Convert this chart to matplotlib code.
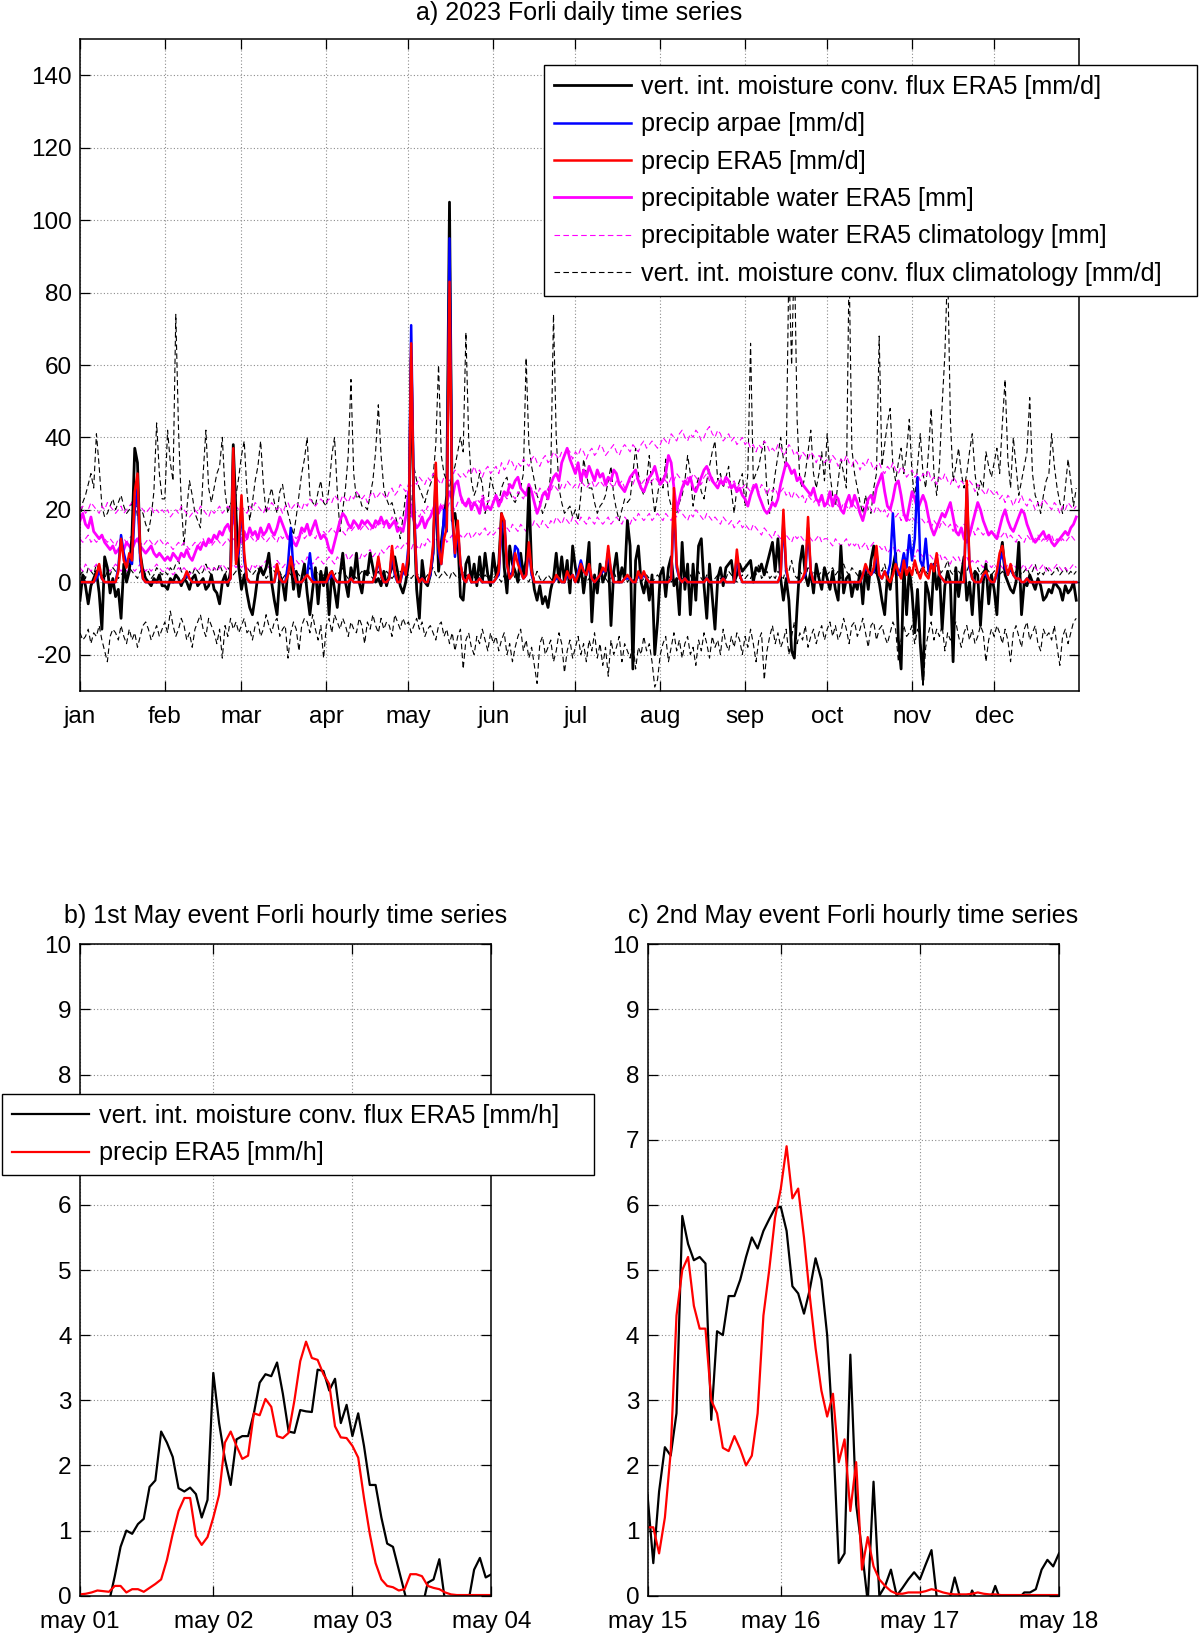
import numpy as np
import matplotlib.pyplot as plt

plt.rcParams['font.family'] = ['Liberation Sans', 'DejaVu Sans']
plt.rcParams['font.size'] = 17.5
plt.rcParams['axes.unicode_minus'] = False

months = ['jan', 'feb', 'mar', 'apr', 'may', 'jun', 'jul', 'aug', 'sep', 'oct', 'nov', 'dec']
month_start = [1, 32, 60, 91, 121, 152, 182, 213, 244, 274, 305, 335]

# -------------------------
# daily series 2023 (one row per month)
# -------------------------
flux_era5 = [
    -5, 2, -1, -6, -1, 1, 3, -3, -13, 7, 4, -3, 1, -4, -2, -10, 5, 0, 3, 13, 37, 33, 8, 3, 1, 0, -1, 1, 0, 2, -1,
    -1, -2, 1, 0, 2, 1, -1, 1, 0, -2, 1, 2, -1, 0, 1, -2, -1, 2, -2, -3, -6, 0, 2, -1, 3, 38, 19, 4,
    -2, 2, -3, -7, -9, -4, 2, 4, 2, 4, 8, 0, -5, -9, 2, 0, -5, 4, 6, -2, 3, -4, 1, 5, -3, -9, -2, 4, -6, 3, -1,
    4, -9, 3, -2, -7, 2, 8, 0, -4, 4, 1, 8, 0, -3, 3, 2, 8, 4, 0, 1, -1, 3, -1, 2, 4, 7, 3, -1, -3, 0,
    5, 62, 19, -2, -10, 6, 0, -1, 2, 8, 29, 3, 11, 17, 24, 105, 17, 19, 13, -4, -5, 5, 7, 0, 5, -1, 7, 0, 8, 2, -1,
    8, 2, 5, 19, 4, -3, 10, 5, 3, 0, 8, 2, 6, 26, 4, -2, -5, -1, -6, -4, -7, -2, 1, 8, 0, 7, 0, 6, -3, 10,
    4, 0, 5, -3, 3, 11, -11, 2, -3, 5, 0, 2, 8, -12, 3, 8, 0, 4, 1, 17, 10, -24, 6, 10, 0, -3, 1, -5, 2, -20, -11,
    2, 4, -4, 4, 7, -1, 1, -9, 11, -2, 5, -9, 5, -5, 10, 12, -1, -10, 5, -4, -13, 1, 4, -1, 4, 5, 6, 0, 2, 5, 3,
    4, 5, 6, 0, 4, 3, 5, 2, 5, 8, 11, 3, 12, 1, -5, 1, -5, -19, -21, -7, 5, 10, 2, -1, 3, -3, 5, 1, -2, 4,
    1, -2, 3, -2, -5, 10, -3, 1, 2, -4, 0, -2, 3, -6, 4, -2, 6, 10, 3, 0, -5, -9, 2, -2, 4, 8, -16, -24, 5, -9, 4,
    -3, -14, -2, -17, -27, 0, -3, -9, 5, -2, 3, -13, -1, 3, 0, -22, 4, -4, 2, 7, -5, 0, -9, 3, 2, -12, 0, 5, -6, 2,
    -2, -9, 6, 11, 2, 0, -2, -3, 0, 11, -9, 0, -1, 2, 0, -2, 1, -1, -5, -4, -2, -3, 0, -1, -2, -5, -1, -3, -2, 0, -5,
]

precip_arpae = [
    0, 0, 0, 0, 0, 0, 1, 3, 1, 0, 0, 0, 0, 0, 4, 13, 8, 5, 6, 5, 20, 26, 6, 1, 0, 0, 0, 0, 0, 0, 0,
    0, 0, 0, 0, 0, 0, 0, 1, 2, 1, 0, 0, 0, 0, 0, 0, 0, 0, 0, 0, 0, 0, 0, 0, 1, 33, 6, 8,
    22, 6, 1, 0, 0, 0, 0, 0, 0, 0, 0, 0, 0, 4, 1, 0, 0, 5, 15, 3, 0, 0, 0, 1, 2, 8, 1, 0, 0, 0, 0,
    0, 1, 2, 1, 0, 0, 0, 0, 0, 1, 0, 0, 0, 0, 0, 0, 0, 0, 2, 6, 2, 0, 0, 1, 8, 2, 0, 0, 3, 2,
    10, 71, 22, 2, 0, 1, 0, 0, 2, 8, 28, 8, 5, 20, 14, 95, 18, 7, 15, 5, 1, 0, 2, 0, 0, 0, 1, 0, 0, 0, 0,
    0, 1, 2, 15, 17, 5, 1, 3, 10, 9, 3, 1, 2, 9, 2, 0, 0, 0, 0, 0, 0, 0, 0, 1, 1, 0, 0, 2, 1, 2,
    0, 3, 6, 3, 2, 4, 1, 0, 1, 2, 3, 3, 8, 3, 0, 0, 0, 0, 1, 1, 1, 0, 0, 2, 1, 2, 1, 0, 0, 0, 0,
    0, 0, 0, 0, 1, 22, 4, 1, 0, 1, 0, 0, 0, 0, 0, 0, 0, 1, 0, 0, 0, 0, 0, 1, 0, 0, 0, 0, 7, 2, 0,
    0, 0, 0, 0, 0, 0, 0, 0, 0, 0, 0, 0, 0, 2, 17, 3, 0, 0, 0, 0, 0, 1, 2, 15, 3, 0, 0, 0, 0, 0,
    0, 0, 0, 0, 0, 0, 0, 0, 0, 0, 0, 0, 0, 2, 4, 3, 2, 3, 8, 2, 1, 3, 2, 5, 19, 6, 2, 4, 8, 4, 13,
    6, 12, 29, 6, 4, 12, 3, 5, 4, 7, 2, 1, 0, 0, 0, 0, 0, 0, 0, 0, 26, 4, 1, 0, 0, 0, 2, 2, 1, 0,
    0, 2, 6, 8, 4, 2, 4, 2, 1, 1, 0, 0, 1, 0, 0, 0, 0, 0, 0, 0, 0, 0, 0, 0, 0, 0, 0, 0, 0, 0, 0,
]

precip_era5 = [
    0, 0, 0, 0, 0, 0, 2, 5, 1, 0, 0, 0, 0, 0, 3, 12, 6, 4, 8, 6, 25, 30, 8, 1, 0, 0, 0, 0, 0, 0, 0,
    0, 0, 0, 0, 0, 0, 0, 1, 3, 1, 0, 0, 0, 0, 0, 0, 0, 0, 0, 0, 0, 0, 0, 0, 1, 37, 5, 10,
    24, 8, 1, 0, 0, 0, 0, 0, 0, 0, 0, 0, 0, 5, 1, 0, 0, 2, 7, 3, 0, 0, 0, 1, 2, 1, 0, 0, 0, 0, 0,
    0, 2, 3, 1, 0, 0, 0, 0, 0, 1, 0, 0, 0, 0, 0, 0, 0, 0, 2, 7, 2, 0, 0, 1, 10, 3, 0, 0, 5, 2,
    8, 66, 20, 2, 0, 1, 0, 0, 3, 10, 33, 10, 5, 12, 15, 83, 20, 8, 17, 5, 1, 0, 2, 0, 0, 0, 1, 0, 0, 0, 0,
    0, 1, 3, 19, 17, 5, 1, 2, 8, 5, 3, 1, 2, 11, 3, 0, 0, 0, 0, 0, 0, 0, 0, 2, 1, 0, 0, 3, 1, 2,
    0, 2, 5, 3, 2, 5, 1, 0, 1, 2, 4, 3, 10, 3, 0, 0, 0, 0, 1, 2, 1, 0, 0, 3, 1, 3, 1, 0, 0, 0, 0,
    0, 0, 0, 0, 1, 26, 5, 1, 0, 1, 0, 0, 0, 0, 0, 0, 0, 1, 0, 0, 0, 0, 0, 1, 0, 0, 0, 0, 9, 2, 0,
    0, 0, 0, 0, 0, 0, 0, 0, 0, 0, 0, 0, 0, 2, 20, 4, 0, 0, 0, 0, 0, 1, 3, 18, 3, 0, 0, 0, 0, 0,
    0, 0, 0, 0, 0, 0, 0, 0, 0, 0, 0, 0, 0, 2, 5, 3, 2, 4, 10, 2, 1, 3, 1, 0, 2, 5, 3, 1, 6, 2, 4,
    2, 6, 3, 1, 4, 2, 1, 5, 3, 8, 2, 1, 0, 0, 0, 0, 0, 0, 0, 0, 28, 5, 1, 0, 0, 0, 2, 3, 1, 0,
    0, 3, 8, 10, 5, 2, 5, 2, 1, 1, 0, 0, 1, 0, 0, 0, 0, 0, 0, 0, 0, 0, 0, 0, 0, 0, 0, 0, 0, 0, 0,
]

pw_era5 = [
    17, 19, 16, 15, 18, 14, 13, 12, 13, 11, 10, 9, 10, 8, 9, 10, 9, 11, 10, 9, 11, 12, 10, 9, 8, 9, 10, 8, 7, 8, 7,
    6, 7, 6, 8, 7, 6, 8, 7, 9, 7, 6, 8, 10, 9, 11, 10, 12, 11, 13, 12, 14, 13, 15, 16, 14, 18, 15, 12,
    11, 14, 12, 15, 13, 14, 12, 15, 13, 14, 16, 14, 13, 15, 18, 16, 14, 12, 13, 11, 10, 12, 15, 14, 16, 13, 15, 17, 14, 12, 13,
    12, 9, 8, 11, 14, 17, 19, 18, 16, 15, 17, 16, 15, 17, 16, 17, 16, 15, 17, 16, 18, 16, 17, 15, 16, 17, 14, 15, 14, 18,
    25, 20, 17, 15, 16, 18, 15, 17, 18, 20, 22, 19, 21, 20, 22, 25, 23, 27, 28, 24, 22, 21, 23, 20, 22, 21, 19, 23, 20, 21, 20,
    22, 24, 21, 23, 25, 24, 27, 26, 28, 29, 26, 25, 24, 27, 25, 22, 19, 21, 24, 25, 23, 27, 29, 30, 28, 33, 35, 37, 34, 32,
    30, 33, 28, 31, 29, 32, 30, 28, 31, 29, 30, 27, 29, 28, 31, 30, 27, 26, 25, 27, 29, 30, 31, 28, 26, 25, 27, 29, 30, 32, 29,
    27, 28, 30, 35, 33, 26, 20, 23, 26, 28, 27, 29, 26, 25, 27, 29, 31, 32, 30, 28, 27, 26, 28, 27, 29, 28, 26, 27, 25, 26, 24,
    23, 21, 24, 26, 27, 24, 22, 20, 19, 20, 22, 21, 23, 27, 30, 33, 32, 30, 31, 28, 29, 27, 26, 25, 24, 26, 23, 22, 24, 21,
    22, 25, 21, 24, 23, 20, 19, 22, 24, 21, 24, 22, 19, 17, 20, 23, 24, 22, 26, 28, 30, 25, 21, 20, 23, 27, 28, 24, 19, 17, 21,
    25, 23, 20, 22, 24, 22, 18, 15, 13, 15, 17, 19, 18, 20, 22, 18, 14, 13, 15, 12, 11, 13, 16, 19, 22, 20, 17, 15, 13, 14,
    13, 12, 15, 18, 20, 17, 15, 14, 16, 18, 20, 19, 16, 14, 12, 11, 12, 13, 14, 12, 13, 11, 10, 11, 12, 13, 14, 13, 15, 16, 18,
]

# precipitable water climatology: upper, mean, lower
pw_clim_up = [
    20, 21, 19, 20, 22, 21, 20, 19, 21, 20, 22, 21, 20, 19, 20, 21, 19, 20, 21, 22, 20, 19, 21, 20, 19, 20, 21, 19, 20, 19, 20,
    19, 20, 18, 19, 20, 19, 21, 20, 19, 18, 19, 20, 19, 21, 20, 19, 18, 20, 19, 20, 21, 19, 20, 21, 20, 19, 21, 20,
    21, 20, 19, 21, 20, 22, 21, 20, 19, 21, 20, 22, 21, 20, 21, 19, 21, 22, 20, 21, 22, 21, 20, 22, 21, 23, 22, 21, 22, 23, 22,
    22, 23, 22, 24, 23, 22, 24, 23, 22, 24, 23, 25, 24, 23, 24, 22, 24, 25, 23, 24, 25, 24, 23, 25, 26, 24, 25, 27, 26, 25,
    27, 26, 28, 27, 29, 28, 27, 29, 28, 30, 29, 28, 27, 29, 30, 28, 29, 31, 30, 29, 30, 29, 31, 30, 32, 30, 31, 29, 31, 32, 30,
    31, 32, 30, 33, 31, 32, 34, 33, 31, 33, 32, 34, 33, 32, 34, 35, 33, 32, 34, 35, 33, 34, 36, 35, 34, 36, 35, 37, 36, 34,
    36, 35, 37, 36, 34, 36, 37, 35, 36, 38, 37, 35, 36, 37, 38, 36, 35, 37, 38, 37, 36, 38, 37, 36, 38, 39, 37, 38, 39, 38, 37,
    38, 40, 39, 38, 41, 40, 39, 41, 42, 40, 39, 41, 40, 42, 41, 39, 40, 42, 43, 41, 40, 42, 41, 39, 40, 41, 39, 40, 38, 39, 40,
    38, 39, 37, 38, 36, 38, 37, 39, 38, 36, 37, 36, 38, 37, 35, 36, 38, 37, 35, 36, 34, 36, 35, 34, 36, 35, 33, 35, 34, 33,
    34, 33, 35, 34, 32, 34, 33, 35, 33, 32, 34, 33, 31, 33, 32, 34, 33, 31, 32, 33, 31, 30, 32, 31, 33, 31, 30, 32, 31, 29, 30,
    31, 29, 30, 28, 30, 29, 31, 28, 29, 27, 29, 28, 30, 28, 27, 29, 28, 26, 28, 27, 26, 28, 27, 25, 27, 26, 25, 24, 26, 25,
    24, 25, 23, 24, 22, 24, 23, 21, 23, 22, 24, 22, 21, 23, 22, 20, 22, 21, 23, 22, 21, 20, 22, 21, 19, 21, 20, 22, 21, 20, 21,
]

pw_clim_mid = [
    12, 11, 12, 13, 11, 12, 11, 12, 13, 12, 11, 12, 11, 10, 12, 11, 12, 11, 12, 13, 11, 12, 11, 10, 11, 12, 11, 10, 11, 12, 11,
    10, 11, 10, 9, 10, 11, 10, 11, 10, 9, 10, 11, 10, 11, 12, 10, 11, 10, 11, 12, 11, 10, 11, 12, 11, 12, 11, 12,
    12, 11, 12, 13, 12, 11, 12, 13, 12, 11, 12, 13, 12, 11, 13, 12, 13, 12, 11, 13, 12, 13, 14, 12, 13, 14, 13, 12, 14, 13, 14,
    13, 14, 15, 14, 13, 15, 14, 13, 15, 14, 15, 16, 14, 15, 16, 15, 14, 16, 15, 17, 16, 15, 17, 16, 18, 17, 16, 18, 17, 18,
    19, 18, 20, 19, 18, 20, 19, 21, 20, 19, 21, 20, 22, 21, 20, 22, 21, 20, 22, 23, 21, 22, 23, 22, 21, 23, 22, 24, 23, 22, 23,
    22, 24, 23, 22, 24, 23, 25, 24, 23, 25, 24, 23, 25, 24, 26, 25, 24, 26, 25, 24, 26, 25, 27, 26, 25, 27, 26, 28, 27, 26,
    27, 26, 28, 27, 26, 27, 28, 26, 27, 28, 27, 26, 28, 27, 26, 28, 27, 28, 26, 27, 28, 27, 29, 28, 27, 28, 29, 27, 28, 29, 28,
    27, 29, 28, 27, 29, 28, 30, 29, 28, 27, 29, 28, 30, 29, 28, 27, 29, 30, 28, 29, 27, 28, 29, 27, 28, 26, 27, 28, 26, 27, 26,
    27, 26, 25, 27, 26, 25, 27, 26, 24, 26, 25, 26, 24, 25, 26, 24, 25, 23, 25, 24, 23, 24, 22, 24, 23, 22, 23, 21, 23, 22,
    22, 21, 23, 22, 21, 20, 22, 21, 20, 22, 21, 20, 19, 21, 20, 22, 20, 19, 21, 20, 19, 20, 18, 20, 19, 18, 19, 17, 19, 18, 17,
    18, 17, 16, 18, 17, 16, 17, 15, 17, 16, 15, 17, 16, 15, 16, 14, 16, 15, 14, 16, 15, 14, 15, 13, 15, 14, 13, 14, 13, 14,
    13, 14, 12, 13, 14, 12, 13, 12, 11, 13, 12, 11, 13, 12, 11, 12, 13, 11, 12, 11, 12, 13, 11, 12, 11, 12, 11, 12, 13, 12, 11,
]

pw_clim_low = [
    4, 3, 5, 4, 3, 4, 5, 3, 4, 5, 4, 3, 4, 5, 4, 3, 4, 3, 5, 4, 3, 4, 5, 4, 3, 4, 3, 4, 5, 4, 3,
    3, 4, 3, 2, 3, 4, 3, 4, 3, 2, 3, 4, 3, 4, 5, 3, 4, 3, 4, 3, 4, 5, 4, 3, 4, 5, 4, 5,
    4, 5, 4, 3, 5, 4, 5, 4, 5, 6, 4, 5, 4, 6, 5, 4, 5, 6, 5, 4, 6, 5, 6, 5, 7, 6, 5, 6, 7, 6, 5,
    6, 7, 6, 5, 7, 6, 7, 8, 6, 7, 8, 7, 6, 8, 7, 8, 9, 7, 8, 7, 9, 8, 9, 10, 8, 9, 10, 9, 10, 11,
    10, 9, 11, 10, 9, 11, 10, 12, 11, 10, 12, 11, 12, 13, 11, 12, 13, 12, 11, 13, 12, 13, 14, 12, 13, 14, 13, 14, 15, 13, 14,
    13, 14, 15, 14, 13, 15, 14, 16, 15, 14, 16, 15, 14, 16, 15, 17, 16, 15, 17, 16, 15, 17, 16, 18, 17, 16, 18, 17, 16, 18,
    17, 16, 18, 17, 16, 18, 17, 16, 18, 17, 16, 17, 18, 16, 17, 18, 17, 16, 18, 17, 16, 18, 17, 19, 18, 17, 18, 19, 17, 18, 19,
    18, 17, 19, 18, 17, 19, 18, 20, 19, 18, 17, 19, 18, 20, 19, 18, 17, 19, 18, 17, 18, 17, 16, 18, 17, 16, 17, 15, 16, 17, 15,
    16, 15, 14, 16, 15, 14, 13, 15, 14, 13, 12, 14, 13, 12, 14, 13, 12, 11, 13, 12, 13, 12, 11, 13, 12, 11, 12, 13, 11, 12,
    12, 11, 10, 12, 11, 10, 11, 12, 10, 11, 10, 11, 9, 10, 11, 9, 10, 11, 9, 10, 9, 10, 8, 9, 10, 8, 9, 8, 7, 9, 8,
    8, 7, 9, 8, 7, 6, 8, 7, 6, 7, 8, 6, 7, 6, 5, 7, 6, 7, 5, 6, 7, 5, 6, 5, 6, 5, 4, 6, 5, 4,
    5, 4, 5, 4, 3, 5, 4, 5, 4, 3, 4, 5, 3, 4, 5, 4, 3, 4, 5, 3, 4, 3, 4, 5, 4, 3, 4, 3, 4, 5, 4,
]

# moisture convergence climatology: upper, mean, lower
flux_clim_up = [
    17, 22, 24, 27, 30, 26, 41, 32, 21, 18, 19, 21, 23, 20, 22, 24, 21, 19, 20, 22, 24, 18, 20, 19, 16, 14, 18, 25, 44, 30, 23,
    23, 42, 33, 28, 74, 42, 22, 10, 20, 28, 24, 19, 17, 15, 30, 42, 26, 22, 26, 30, 32, 40, 25, 19, 22, 20, 24, 29,
    35, 39, 25, 17, 22, 28, 32, 39, 27, 19, 23, 26, 22, 19, 25, 27, 22, 19, 16, 13, 18, 24, 30, 34, 40, 24, 22, 21, 25, 28, 22,
    21, 26, 35, 40, 25, 14, 20, 26, 35, 56, 30, 23, 24, 21, 21, 20, 24, 28, 36, 49, 35, 26, 23, 21, 22, 19, 16, 12, 18, 24,
    23, 19, 32, 28, 26, 24, 22, 25, 27, 29, 38, 60, 35, 30, 28, 26, 30, 32, 36, 40, 36, 69, 40, 28, 24, 26, 30, 27, 19, 22, 29,
    26, 24, 22, 26, 28, 29, 25, 23, 22, 24, 26, 30, 62, 38, 32, 28, 24, 22, 19, 21, 24, 30, 74, 40, 26, 22, 19, 20, 21, 18,
    20, 17, 24, 34, 30, 26, 26, 22, 19, 21, 22, 24, 28, 32, 24, 20, 17, 20, 23, 22, 23, 30, 37, 30, 26, 24, 28, 35, 26, 19, 24,
    29, 26, 34, 24, 21, 19, 19, 22, 24, 28, 35, 30, 21, 26, 29, 25, 23, 28, 32, 36, 39, 28, 30, 26, 29, 32, 25, 19, 26, 28, 30,
    21, 30, 66, 28, 30, 32, 36, 39, 25, 19, 24, 30, 35, 40, 34, 32, 88, 60, 92, 45, 28, 26, 30, 36, 42, 30, 26, 30, 36, 28,
    41, 30, 24, 21, 28, 34, 30, 26, 88, 37, 30, 26, 22, 19, 24, 20, 19, 26, 30, 68, 32, 38, 44, 48, 32, 28, 33, 37, 30, 36, 45,
    30, 23, 32, 41, 30, 26, 36, 48, 30, 24, 32, 49, 63, 88, 45, 28, 32, 37, 30, 26, 30, 36, 41, 30, 24, 28, 26, 36, 32, 29,
    33, 37, 30, 44, 56, 34, 26, 40, 32, 24, 28, 32, 36, 51, 30, 24, 22, 19, 24, 28, 30, 41, 32, 26, 22, 19, 26, 34, 28, 21, 26,
]

flux_clim_mid = [
    2, 3, 1, 4, 3, 2, 5, 3, 2, 1, 3, 2, 4, 3, 1, 2, 3, 2, 4, 3, 2, 1, 3, 4, 2, 3, 1, 2, 4, 3, 2,
    3, 2, 4, 3, 5, 6, 3, 2, 1, 3, 2, 4, 3, 2, 3, 5, 3, 2, 4, 3, 5, 3, 2, 4, 3, 2, 3, 4,
    3, 2, 4, 3, 2, 3, 4, 2, 3, 1, 2, 4, 3, 2, 3, 1, 2, 3, 2, 4, 3, 2, 1, 3, 2, 4, 3, 2, 3, 1, 2,
    2, 3, 1, 2, 3, 2, 4, 2, 1, 3, 2, 1, 2, 3, 2, 4, 2, 1, 2, 3, 1, 2, 3, 2, 1, 2, 1, 3, 2, 1,
    2, 1, 2, 3, 1, 2, 1, 2, 3, 4, 2, 1, 2, 3, 2, 1, 3, 2, 1, 2, 3, 2, 1, 2, 1, 3, 2, 1, 2, 1, 2,
    1, 2, 1, 0, 2, 1, 2, 3, 1, 0, 1, 2, 1, 0, 2, 1, 3, 1, 0, 1, 2, 1, 0, 1, 2, 0, 1, 2, 1, 0,
    1, 0, 2, 1, 0, 1, 2, 0, 1, 0, 2, 1, 0, 1, 3, 1, 0, 1, 2, 0, 1, 0, 2, 1, 0, 1, 2, 1, 0, 1, 2,
    1, 0, 1, 2, 0, 1, 0, 2, 1, 0, 1, 2, 0, 1, 3, 1, 0, 2, 1, 0, 1, 2, 1, 0, 1, 3, 2, 1, 0, 1, 2,
    1, 2, 1, 3, 2, 5, 1, 2, 3, 1, 2, 1, 3, 2, 1, 4, 3, 6, 2, 1, 3, 2, 1, 4, 2, 3, 1, 2, 3, 4,
    2, 3, 4, 2, 3, 1, 5, 3, 2, 4, 3, 2, 1, 3, 4, 2, 5, 3, 2, 4, 3, 5, 2, 3, 4, 2, 3, 1, 4, 3, 2,
    3, 4, 2, 3, 5, 3, 2, 4, 3, 5, 2, 3, 4, 6, 3, 2, 4, 3, 2, 4, 3, 5, 2, 3, 4, 2, 3, 4, 3, 2,
    3, 4, 2, 3, 2, 4, 3, 2, 3, 4, 2, 3, 4, 2, 3, 5, 2, 3, 2, 4, 3, 2, 3, 4, 2, 3, 4, 2, 3, 2, 3,
]

flux_clim_low = [
    -14, -16, -15, -13, -17, -14, -15, -12, -16, -19, -22, -15, -13, -14, -16, -12, -15, -17, -13, -16, -14, -18, -15, -12, -11, -13, -16, -14, -12, -15, -13,
    -11, -14, -8, -12, -15, -13, -10, -12, -16, -14, -18, -13, -11, -9, -13, -15, -10, -12, -14, -17, -13, -21, -12, -15, -10, -13, -11, -14,
    -12, -10, -14, -13, -16, -12, -11, -15, -13, -9, -12, -14, -11, -10, -15, -13, -12, -21, -14, -11, -13, -19, -12, -10, -11, -14, -9, -13, -16, -12, -21,
    -12, -10, -14, -9, -11, -13, -10, -12, -15, -11, -13, -14, -10, -12, -17, -11, -13, -9, -12, -14, -10, -13, -11, -12, -15, -9, -11, -13, -10, -12,
    -11, -14, -12, -10, -13, -11, -15, -13, -12, -14, -16, -12, -11, -15, -13, -17, -14, -19, -15, -13, -24, -16, -14, -18, -20, -15, -17, -13, -16, -19, -14,
    -17, -15, -19, -16, -14, -20, -17, -22, -18, -15, -13, -19, -16, -21, -18, -23, -28, -17, -15, -20, -18, -16, -22, -19, -14, -17, -25, -19, -16, -21,
    -18, -15, -20, -17, -22, -16, -19, -14, -21, -17, -23, -18, -26, -16, -20, -18, -15, -22, -17, -19, -21, -16, -24, -18, -20, -15, -19, -17, -22, -29, -27,
    -20, -17, -15, -22, -18, -14, -19, -16, -21, -17, -15, -20, -18, -23, -16, -19, -14, -17, -21, -15, -18, -16, -20, -13, -17, -19, -15, -18, -14, -16, -20,
    -15, -18, -13, -17, -22, -16, -14, -27, -19, -15, -12, -17, -14, -18, -16, -13, -20, -15, -11, -17, -14, -16, -12, -18, -15, -13, -17, -14, -12, -16,
    -13, -11, -15, -12, -16, -14, -10, -13, -17, -12, -11, -15, -13, -10, -14, -18, -12, -11, -16, -13, -12, -15, -17, -14, -11, -13, -22, -16, -12, -15, -14,
    -12, -17, -13, -15, -29, -18, -14, -11, -16, -13, -15, -12, -19, -14, -16, -13, -11, -15, -18, -14, -12, -16, -13, -17, -15, -12, -14, -22, -16, -13,
    -15, -12, -14, -17, -13, -16, -22, -14, -12, -15, -18, -13, -11, -16, -14, -12, -17, -19, -13, -15, -14, -16, -12, -18, -23, -15, -13, -17, -14, -11, -10,
]

# -------------------------
# hourly series, hours 1..72 after the event start
# -------------------------
flux_may1 = [
    -0.5, -0.6, -0.4, -0.5, -0.3, -0.1, 0.3, 0.75, 1.0, 0.95,
    1.1, 1.18, 1.67, 1.77, 2.52, 2.35, 2.13, 1.65, 1.6, 1.66,
    1.56, 1.2, 1.47, 3.42, 2.65, 2.1, 1.7, 2.4, 2.45, 2.45,
    2.8, 3.27, 3.4, 3.37, 3.58, 3.1, 2.52, 2.5, 2.85, 2.83,
    2.82, 3.47, 3.45, 3.15, 3.33, 2.65, 2.93, 2.45, 2.8, 2.3,
    1.7, 1.7, 1.2, 0.8, 0.75, 0.4, 0.05, -0.3, -0.4, -0.2,
    0.2, 0.25, 0.56, -0.1, -0.4, -0.5, -0.3, -0.1, 0.4, 0.58,
    0.28, 0.33,
]
precip_may1 = [
    0.02, 0.03, 0.05, 0.08, 0.07, 0.06, 0.15, 0.15, 0.05, 0.1,
    0.1, 0.06, 0.12, 0.18, 0.25, 0.55, 0.95, 1.3, 1.5, 1.5,
    0.92, 0.78, 0.9, 1.2, 1.55, 2.35, 2.52, 2.3, 2.1, 2.15,
    2.8, 2.77, 3.02, 2.9, 2.45, 2.42, 2.5, 3.0, 3.6, 3.9,
    3.65, 3.62, 3.4, 3.25, 2.6, 2.43, 2.42, 2.3, 2.12, 1.5,
    0.95, 0.5, 0.25, 0.15, 0.13, 0.08, 0.1, 0.33, 0.33, 0.3,
    0.15, 0.12, 0.1, 0.05, 0.02, 0.01, 0.01, 0.01, 0.01, 0.01,
    0.01, 0.01,
]
flux_may15 = [
    1.55, 0.5, 1.6, 2.28, 2.15, 2.8, 5.83, 5.4, 5.15, 5.2,
    5.1, 2.7, 4.06, 4.0, 4.6, 4.6, 4.85, 5.2, 5.5, 5.33,
    5.6, 5.78, 5.95, 5.97, 5.6, 4.75, 4.64, 4.33, 4.7, 5.18,
    4.85, 4.0, 2.5, 0.5, 0.65, 3.7, 1.4, 0.7, -0.1, 1.75,
    0.0, 0.15, 0.4, 0.0, 0.12, 0.25, 0.36, 0.25, 0.48, 0.7,
    -0.1, -0.2, -0.1, 0.28, -0.05, -0.2, 0.08, -0.1, -0.2, -0.1,
    0.15, -0.1, -0.2, -0.1, -0.05, 0.05, 0.05, 0.1, 0.4, 0.55,
    0.45, 0.65,
]
precip_may15 = [
    1.05, 1.05, 0.65, 1.2, 2.2, 4.3, 5.0, 5.2, 4.45, 4.1,
    4.1, 3.0, 2.8, 2.27, 2.22, 2.45, 2.25, 2.0, 2.15, 2.8,
    4.3, 5.0, 5.8, 6.25, 6.9, 6.1, 6.25, 5.5, 4.6, 3.8,
    3.15, 2.75, 3.1, 2.05, 2.4, 1.3, 2.05, 0.4, 0.9, 0.45,
    0.25, 0.15, 0.07, 0.03, 0.03, 0.05, 0.05, 0.05, 0.07, 0.1,
    0.08, 0.05, 0.03, 0.02, 0.02, 0.02, 0.03, 0.05, 0.03, 0.02,
    0.02, 0.01, 0.01, 0.01, 0.01, 0.01, 0.01, 0.01, 0.01, 0.01,
    0.01, 0.01,
]
may1_labels = ['may 01', 'may 02', 'may 03', 'may 04']
may15_labels = ['may 15', 'may 16', 'may 17', 'may 18']

FS = 17.5
LFS = 18.1
W, H = 1200, 1635


def style_axes(ax):
    ax.tick_params(direction='in', top=True, right=True, length=7, width=0.9,
                   labelsize=FS)
    ax.tick_params(axis='x', pad=11)
    ax.tick_params(axis='y', pad=6)
    ax.grid(True, linestyle=(0, (1, 2)), color='0.55', linewidth=0.8)
    ax.set_axisbelow(True)
    for s in ax.spines.values():
        s.set_linewidth(1.1)


leg_style = dict(loc='upper left', mode='expand', borderaxespad=0,
                 fancybox=False, edgecolor='k', framealpha=1, fontsize=LFS,
                 handlelength=3.07, handletextpad=0.4, labelspacing=0.53,
                 borderpad=0.40)

fig = plt.figure(figsize=(W / 100, H / 100), dpi=100)

# -------------------------
# a) daily series
# -------------------------
ax = fig.add_axes([80 / W, 1 - 690.7 / H, 999 / W, 651.4 / H])
x = np.arange(1, len(flux_era5) + 1)
dash = (5, 3)

for s in [flux_clim_up, flux_clim_mid, flux_clim_low]:
    l_fclim, = ax.plot(np.arange(1, len(s) + 1), s, color='k', lw=0.8, dashes=dash)
for s in [pw_clim_up, pw_clim_mid, pw_clim_low]:
    l_pclim, = ax.plot(np.arange(1, len(s) + 1), s, color='magenta', lw=0.8, dashes=dash)
l_pw, = ax.plot(np.arange(1, len(pw_era5) + 1), pw_era5, color='magenta', lw=2)
l_flux, = ax.plot(x, flux_era5, color='k', lw=2)
l_arpae, = ax.plot(np.arange(1, len(precip_arpae) + 1), precip_arpae, color='blue', lw=1.8)
l_prec, = ax.plot(np.arange(1, len(precip_era5) + 1), precip_era5, color='red', lw=1.8)

ax.set_xlim(1, 366)
ax.set_ylim(-30, 150)
ax.set_yticks(np.arange(-20, 141, 20))
ax.set_xticks(month_start)
ax.set_xticklabels(months)
style_axes(ax)
ax.set_title('a) 2023 Forli daily time series', fontsize=18, pad=14)

leg = ax.legend([l_flux, l_arpae, l_prec, l_pw, l_pclim, l_fclim],
                ['vert. int. moisture conv. flux ERA5 [mm/d]',
                 'precip arpae [mm/d]',
                 'precip ERA5 [mm/d]',
                 'precipitable water ERA5 [mm]',
                 'precipitable water ERA5 climatology [mm]',
                 'vert. int. moisture conv. flux climatology [mm/d]'],
                bbox_to_anchor=(544 / W, 1 - 294 / H, 653 / W, 229 / H),
                bbox_transform=fig.transFigure, **leg_style)
leg.get_frame().set_linewidth(1.0)

# -------------------------
# b) and c) hourly series
# -------------------------
panels = [
    (80, flux_may1, precip_may1, may1_labels, 'b) 1st May event Forli hourly time series'),
    (647.5, flux_may15, precip_may15, may15_labels, 'c) 2nd May event Forli hourly time series'),
]
for left, flux, prec, labels, title in panels:
    axh = fig.add_axes([left / W, 1 - 1595.7 / H, 411.5 / W, 651.4 / H])
    hx = np.arange(1, len(flux) + 1) / 24
    l_hf, = axh.plot(hx, flux, color='k', lw=1.6)
    l_hp, = axh.plot(np.arange(1, len(prec) + 1) / 24, prec, color='red', lw=1.6)
    axh.set_xlim(1 / 24, 3)
    axh.set_ylim(0, 10)
    axh.set_yticks(np.arange(0, 11, 1))
    axh.set_xticks([1 / 24, 1, 2, 3])
    axh.set_xticklabels(labels)
    style_axes(axh)
    axh.set_title(title, fontsize=18, pad=15)
    if left < 100:
        legb = axh.legend([l_hf, l_hp],
                          ['vert. int. moisture conv. flux ERA5 [mm/h]',
                           'precip ERA5 [mm/h]'],
                          bbox_to_anchor=(2 / W, 1 - 1175 / H, 592 / W, 81 / H),
                          bbox_transform=fig.transFigure, **leg_style)
        legb.get_frame().set_linewidth(1.0)

fig.savefig('out.png', dpi=100)
